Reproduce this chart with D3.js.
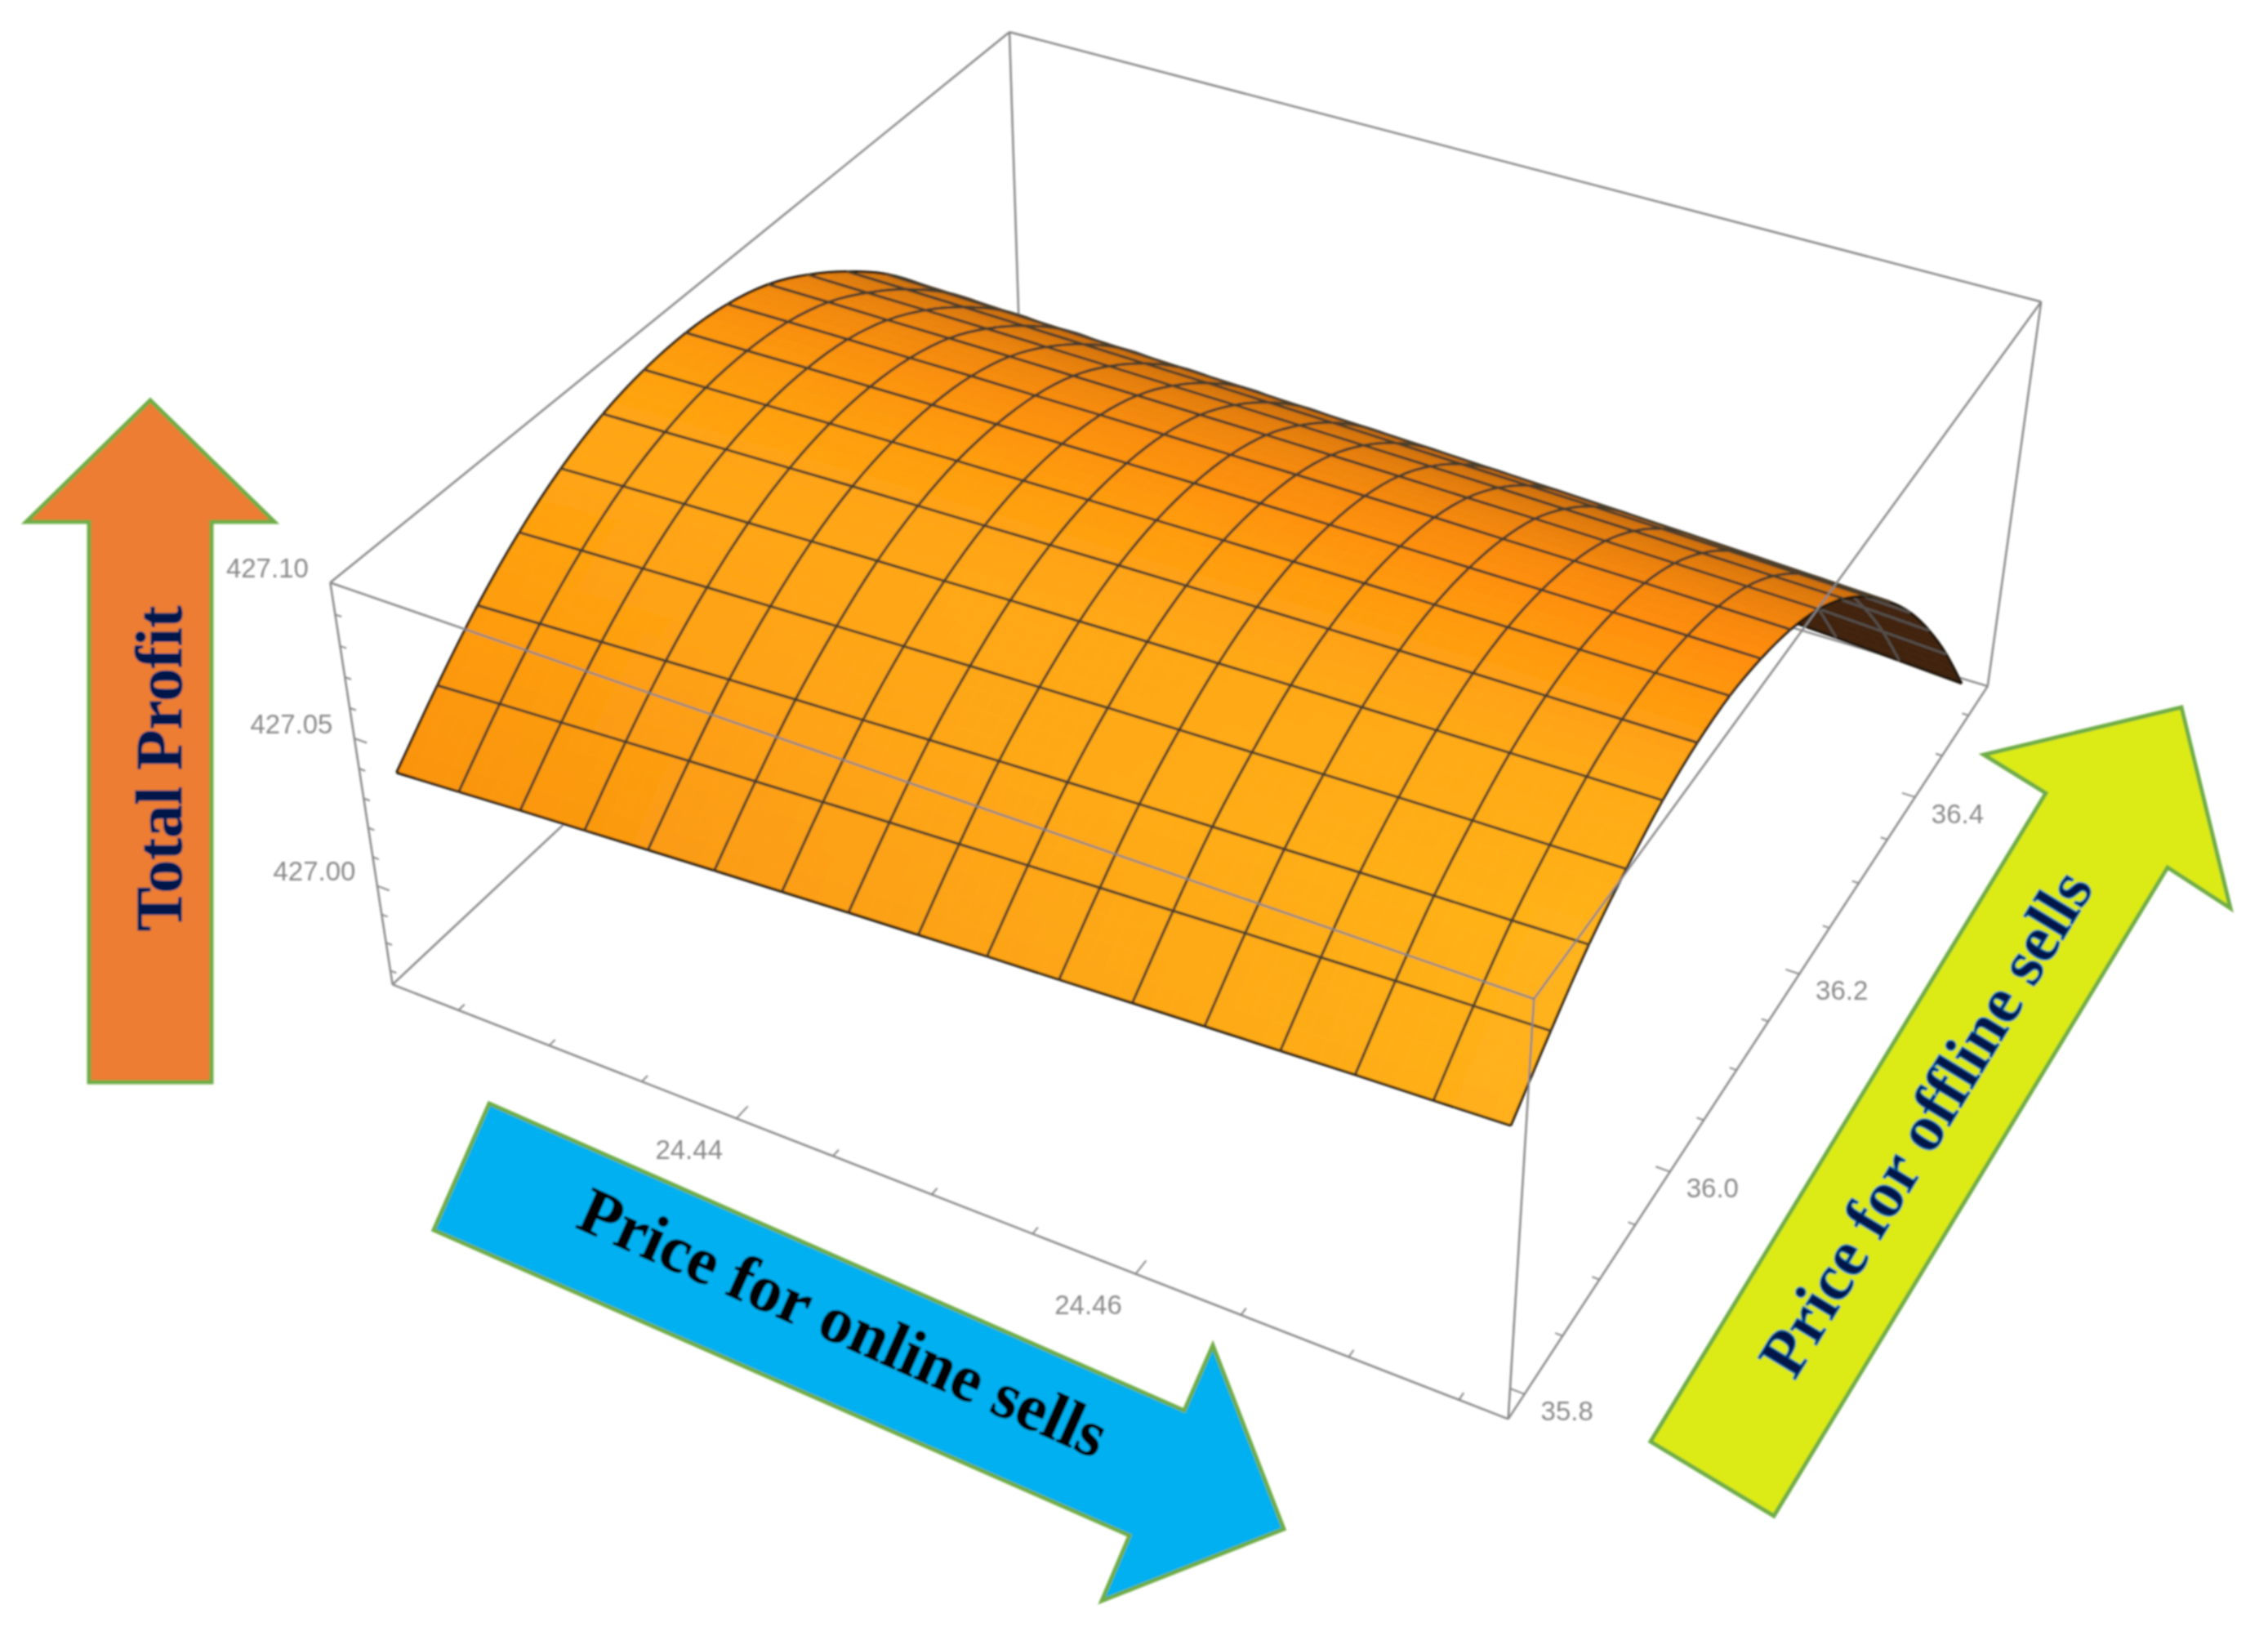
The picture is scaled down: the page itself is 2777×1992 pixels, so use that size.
<!DOCTYPE html>
<html lang="en">
<head>
<meta charset="UTF-8">
<title>Total profit surface</title>
<style>
    body { margin: 0; background: #fff; }
    svg { display: block; }
    .tick-label { font: 33px "Liberation Sans", Arial, sans-serif; fill: #8a8a8a; text-anchor: middle; dominant-baseline: middle; }
    .arrow-label { font: bold 81px "Liberation Serif", "Times New Roman", serif; text-anchor: middle; }
</style>
</head>
<body>
<svg id="chart" width="2777" height="1992"></svg>
<script src="https://cdn.jsdelivr.net/npm/d3@7"></script>
<script>
    var xTicks = [24.425, 24.43, 24.435, 24.44, 24.445, 24.45, 24.455, 24.46, 24.465, 24.47, 24.475];
    var xMajor = [24.44, 24.46];
    var yTicks = [35.8, 35.85, 35.9, 35.95, 36.0, 36.05, 36.1, 36.15, 36.2, 36.25, 36.3, 36.35, 36.4, 36.45, 36.5];
    var yMajor = [35.8, 36.0, 36.2, 36.4];
    var zTicks = [426.97, 426.98, 426.99, 427.0, 427.01, 427.02, 427.03, 427.04, 427.05, 427.06, 427.07, 427.08, 427.09, 427.1];
    var zMajor = [427.0, 427.05, 427.1];

    // mesh lines of the sheet
    var xMesh = [24.4224, 24.4258, 24.4291, 24.4325, 24.4358, 24.4392, 24.4426, 24.4459, 24.4493, 24.4526, 24.4560, 24.4594, 24.4627, 24.4661, 24.4694, 24.4728, 24.4761];
    var yMesh = [35.794, 35.840, 35.885, 35.931, 35.977, 36.023, 36.068, 36.114, 36.160, 36.206, 36.251, 36.297, 36.343, 36.388, 36.434, 36.480, 36.526];

    // total profit at every mesh crossing, one row per yMesh value
    var profit = [
        [427.0365, 427.0378, 427.0391, 427.0403, 427.0415, 427.0427, 427.0438, 427.0449, 427.0459, 427.0470, 427.0479, 427.0489, 427.0498, 427.0507, 427.0516, 427.0524, 427.0532],
        [427.0518, 427.0530, 427.0541, 427.0552, 427.0563, 427.0573, 427.0583, 427.0593, 427.0602, 427.0611, 427.0620, 427.0628, 427.0637, 427.0644, 427.0652, 427.0659, 427.0665],
        [427.0653, 427.0663, 427.0673, 427.0683, 427.0693, 427.0702, 427.0710, 427.0719, 427.0727, 427.0734, 427.0742, 427.0749, 427.0755, 427.0762, 427.0768, 427.0773, 427.0779],
        [427.0765, 427.0774, 427.0782, 427.0790, 427.0797, 427.0804, 427.0811, 427.0818, 427.0824, 427.0830, 427.0835, 427.0840, 427.0845, 427.0850, 427.0854, 427.0857, 427.0861],
        [427.0851, 427.0859, 427.0866, 427.0872, 427.0878, 427.0884, 427.0889, 427.0895, 427.0899, 427.0904, 427.0908, 427.0912, 427.0915, 427.0918, 427.0921, 427.0924, 427.0926],
        [427.0910, 427.0915, 427.0921, 427.0926, 427.0931, 427.0935, 427.0939, 427.0943, 427.0947, 427.0950, 427.0953, 427.0955, 427.0957, 427.0959, 427.0960, 427.0961, 427.0962],
        [427.0941, 427.0945, 427.0949, 427.0953, 427.0956, 427.0960, 427.0962, 427.0965, 427.0967, 427.0969, 427.0970, 427.0971, 427.0972, 427.0972, 427.0972, 427.0972, 427.0972],
        [427.0949, 427.0951, 427.0954, 427.0956, 427.0958, 427.0959, 427.0960, 427.0961, 427.0962, 427.0962, 427.0961, 427.0961, 427.0960, 427.0959, 427.0957, 427.0955, 427.0953],
        [427.0932, 427.0934, 427.0935, 427.0935, 427.0936, 427.0935, 427.0935, 427.0934, 427.0933, 427.0932, 427.0930, 427.0928, 427.0925, 427.0923, 427.0920, 427.0916, 427.0912],
        [427.0888, 427.0888, 427.0887, 427.0887, 427.0886, 427.0884, 427.0882, 427.0880, 427.0878, 427.0875, 427.0872, 427.0868, 427.0865, 427.0861, 427.0856, 427.0851, 427.0846],
        [427.0814, 427.0812, 427.0811, 427.0809, 427.0807, 427.0804, 427.0801, 427.0798, 427.0794, 427.0790, 427.0786, 427.0781, 427.0776, 427.0771, 427.0765, 427.0759, 427.0753],
        [427.0716, 427.0714, 427.0711, 427.0707, 427.0703, 427.0699, 427.0695, 427.0690, 427.0685, 427.0679, 427.0673, 427.0667, 427.0661, 427.0654, 427.0647, 427.0639, 427.0631],
        [427.0599, 427.0594, 427.0589, 427.0584, 427.0578, 427.0572, 427.0566, 427.0559, 427.0552, 427.0545, 427.0537, 427.0529, 427.0521, 427.0512, 427.0503, 427.0494, 427.0484],
        [427.0453, 427.0448, 427.0441, 427.0435, 427.0428, 427.0421, 427.0414, 427.0406, 427.0398, 427.0389, 427.0381, 427.0372, 427.0362, 427.0352, 427.0342, 427.0332, 427.0321],
        [427.0282, 427.0275, 427.0267, 427.0260, 427.0251, 427.0243, 427.0234, 427.0225, 427.0216, 427.0206, 427.0196, 427.0185, 427.0174, 427.0163, 427.0152, 427.0140, 427.0128],
        [427.0082, 427.0074, 427.0065, 427.0056, 427.0047, 427.0038, 427.0028, 427.0018, 427.0007, 426.9996, 426.9985, 426.9973, 426.9962, 426.9949, 426.9937, 426.9924, 426.9911],
        [426.9861, 426.9851, 426.9841, 426.9831, 426.9821, 426.9810, 426.9799, 426.9787, 426.9776, 426.9763, 426.9751, 426.9738, 426.9725, 426.9711, 426.9698, 426.9683, 426.9669]
    ];

    var xScale = d3.scaleLinear().domain([24.4213, 24.4772]).range([0, 1]);
    var yScale = d3.scaleLinear().domain([35.779, 36.537]).range([0, 1]);
    var zScale = d3.scaleLinear().domain([426.965, 427.1]).range([0, 1]);

    // camera calibrated on the box corners of the picture
    var cam = [1156.31697, 1033.38636, -104.83461, 480.62923, 334.67528, -618.20717, -542.44626, 1205.36275, -0.11359, 0.21080, -0.07069];
    function project(u, v, w) {
        var d = cam[8] * u + cam[9] * v + cam[10] * w + 1;
        return [(cam[0] * u + cam[1] * v + cam[2] * w + cam[3]) / d, (cam[4] * u + cam[5] * v + cam[6] * w + cam[7]) / d];
    }

    var line = d3.line();
    var svg = d3.select("#chart");
    svg.append("defs").append("filter").attr("id", "soft").attr("filterUnits", "userSpaceOnUse")
        .attr("x", 0).attr("y", 0).attr("width", 2777).attr("height", 1992)
        .append("feGaussianBlur").attr("stdDeviation", 1);
    var root = svg.append("g").attr("filter", "url(#soft)");

    function drawEdges(g, edges) {
        g.selectAll("path").data(edges).enter().append("path")
            .attr("d", function (e) {
                return line([project(e[0], e[1], e[2]), project(e[3], e[4], e[5])]);
            })
            .attr("fill", "none").attr("stroke", "#878787").attr("stroke-width", 2.5);
    }

    // box edges behind the sheet
    drawEdges(root.append("g"), [[0, 0, 0, 0, 1, 0], [0, 1, 1, 0, 1, 0], [0, 1, 0, 1, 1, 0]]);

    // colours along the y mesh index, at both x ends of the sheet
    var rowIdx = [0, 2, 4, 5, 6, 7, 8, 9, 10, 11, 12];
    var colorLeft = d3.scaleLinear().domain(rowIdx).range(["#fa930f", "#fe9c10", "#ffa512", "#ffa512", "#fea010", "#fc980f", "#f88f0d", "#f0880b", "#e6800a", "#d8780a", "#c86e08"]);
    var colorRight = d3.scaleLinear().domain(rowIdx).range(["#ffb01a", "#ffb31a", "#ffaa15", "#ffa012", "#ff960f", "#ff8d0c", "#f5860b", "#e67e0a", "#d8760a", "#c86c0a", "#b86208"]);
    var dark = "#40220a";

    // height along one column, smoothed between the mesh rows
    function columnZ(fi, j) {
        var i = Math.min(Math.floor(fi), 15), t = fi - i;
        var p1 = profit[i][j], p2 = profit[i + 1][j];
        var p0 = i > 0 ? profit[i - 1][j] : 2 * p1 - p2;
        var p3 = i < 15 ? profit[i + 2][j] : 2 * p2 - p1;
        return p1 + 0.5 * t * (p2 - p0 + t * (2 * p0 - 5 * p1 + 4 * p2 - p3 + t * (3 * (p1 - p2) + p3 - p0)));
    }
    function nodeAt(fi, fj) {
        var i = Math.min(Math.floor(fi), 15), j = Math.min(Math.floor(fj), 15), a = fi - i, b = fj - j;
        var z = (1 - b) * columnZ(fi, j) + b * columnZ(fi, j + 1);
        var x = xMesh[j] + b * (xMesh[j + 1] - xMesh[j]);
        var y = yMesh[i] + a * (yMesh[i + 1] - yMesh[i]);
        return project(xScale(x), yScale(y), zScale(z));
    }

    var surf = root.append("g");
    var sub = 4;
    for (var i = 15; i >= 0; i--) {
        for (var j = 0; j < 16; j++) {
            for (var a = sub - 1; a >= 0; a--) {
                for (var b = 0; b < sub; b++) {
                    var fi = i + a / sub, fj = j + b / sub, d = 1 / sub;
                    var quad = [nodeAt(fi, fj), nodeAt(fi, fj + d), nodeAt(fi + d, fj + d), nodeAt(fi + d, fj)];
                    var fill = d3.polygonArea(quad) > 0 ? d3.interpolateRgb(colorLeft(fi + d / 2), colorRight(fi + d / 2))((fj + d / 2) / 16) : dark;
                    surf.append("path").attr("d", line(quad) + "Z").attr("fill", fill).attr("stroke", fill).attr("stroke-width", 0.8);
                }
            }
            // mesh cell outline, the rim of the sheet is darker
            var leftSide = d3.range(0, sub + 1).map(function (k) { return nodeAt(i + k / sub, j); });
            var rightSide = d3.range(0, sub + 1).map(function (k) { return nodeAt(i + k / sub, j + 1); });
            var isFront = d3.polygonArea([leftSide[0], rightSide[0], rightSide[sub], leftSide[sub]]) > 0;
            var meshColor = isFront ? "#4a3e2c" : "#55504c";
            var rim = "#1e1608";
            surf.append("path").attr("d", line(leftSide)).attr("fill", "none").attr("stroke", j === 0 ? rim : meshColor).attr("stroke-width", 3);
            surf.append("path").attr("d", line(rightSide)).attr("fill", "none").attr("stroke", j === 15 ? rim : meshColor).attr("stroke-width", 3);
            surf.append("path").attr("d", line([rightSide[0], leftSide[0]])).attr("fill", "none").attr("stroke", i === 0 ? rim : meshColor).attr("stroke-width", 3);
            surf.append("path").attr("d", line([rightSide[sub], leftSide[sub]])).attr("fill", "none").attr("stroke", i === 15 ? rim : meshColor).attr("stroke-width", 3);
        }
    }

    // box edges in front of the sheet
    drawEdges(root.append("g"), [
        [0, 0, 0, 1, 0, 0], [0, 0, 0, 0, 0, 1], [1, 0, 0, 1, 0, 1], [0, 0, 1, 1, 0, 1],
        [0, 0, 1, 0, 1, 1], [1, 0, 1, 1, 1, 1], [0, 1, 1, 1, 1, 1], [1, 1, 0, 1, 1, 1], [1, 0, 0, 1, 1, 0]
    ]);

    // ticks
    var ticks = root.append("g").attr("fill", "none").attr("stroke", "#878787").attr("stroke-width", 2);
    xTicks.forEach(function (t) {
        var len = xMajor.indexOf(t) >= 0 ? 0.016 : 0.008;
        var u = xScale(t);
        ticks.append("path").attr("d", line([project(u, 0, 0), project(u, len, 0)]));
    });
    yTicks.forEach(function (t) {
        var len = yMajor.indexOf(t) >= 0 ? 0.012 : 0.006;
        var v = yScale(t);
        ticks.append("path").attr("d", line([project(1, v, 0), project(1 - len, v, 0)]));
    });
    zTicks.forEach(function (t) {
        var len = zMajor.indexOf(t) >= 0 ? 0.012 : 0.006;
        var w = zScale(t);
        ticks.append("path").attr("d", line([project(0, 0, w), project(len, 0, w)]));
    });

    function tickLabel(p, dx, dy, txt) {
        root.append("text").attr("class", "tick-label").attr("x", p[0] + dx).attr("y", p[1] + dy).text(txt);
    }
    xMajor.forEach(function (t) { tickLabel(project(xScale(t), 0, 0), -58, 41, d3.format(".2f")(t)); });
    yMajor.forEach(function (t) { tickLabel(project(1, yScale(t), 0), 52, 23, d3.format(".1f")(t)); });
    zMajor.forEach(function (t) { tickLabel(project(0, 0, zScale(t)), -77, -15, d3.format(".2f")(t)); });

    // arrows
    var arrows = [
        { fill: "#ed7d31", pts: [[184, 490], [336, 639], [259, 639], [259, 1325], [109, 1325], [109, 639], [32, 639]] },
        { fill: "#00b0f0", pts: [[599, 1351], [1450, 1727], [1485, 1647], [1572, 1872], [1349, 1960], [1383, 1880], [531, 1506]] },
        { fill: "#dceb14", pts: [[2671, 866], [2731, 1112], [2654, 1062], [2172, 1856], [2021, 1765], [2505, 971], [2429, 924]] }
    ];
    root.selectAll("path.arrow").data(arrows).enter().append("path").attr("class", "arrow")
        .attr("d", function (d) { return line(d.pts) + "Z"; })
        .attr("fill", function (d) { return d.fill; })
        .attr("stroke", "#70ad47").attr("stroke-width", 5);

    var labels = [
        { text: "Total Profit", x: 222, y: 941, rot: -90, fill: "#00184a", halo: "#003a80", hw: 1.2 },
        { text: "Price for online sells", x: 1022, y: 1644, rot: 24, fill: "#000", halo: "#000", hw: 0.8 },
        { text: "Price for offline sells", x: 2381, y: 1389, rot: -58.7, fill: "#00184a", halo: "#0070c0", hw: 1.8 }
    ];
    root.selectAll("text.arrow-label").data(labels).enter().append("text").attr("class", "arrow-label")
        .attr("transform", function (d) { return "translate(" + d.x + "," + d.y + ") rotate(" + d.rot + ")"; })
        .attr("fill", function (d) { return d.fill; })
        .attr("stroke", function (d) { return d.halo; })
        .attr("stroke-width", function (d) { return d.hw; })
        .text(function (d) { return d.text; });
</script>
</body>
</html>
